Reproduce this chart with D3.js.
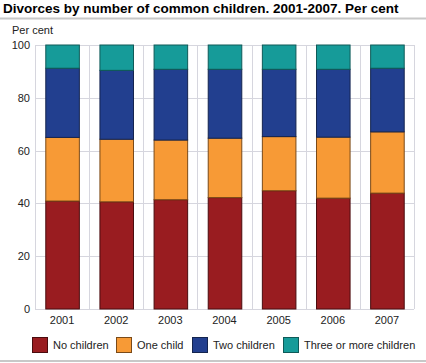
<!DOCTYPE html>
<html>
<head>
<meta charset="utf-8">
<script src="https://cdn.jsdelivr.net/npm/d3@7"></script>
<style>
  body { margin: 0; background: #fff; }
  svg { display: block; font-family: "Liberation Sans", Arial, sans-serif; }
</style>
</head>
<body>
<div id="chart"></div>
<script>
// data
const years = ["2001", "2002", "2003", "2004", "2005", "2006", "2007"];
const seriesNames = ["No children", "One child", "Two children", "Three or more children"];
const noChildren = [40.9, 40.6, 41.4, 42.2, 44.8, 42.0, 43.9];
const oneChild = [24.1, 23.7, 22.6, 22.5, 20.5, 23.1, 23.2];
const twoChildren = [26.2, 26.1, 26.8, 26.1, 25.5, 25.7, 24.1];
const threeOrMore = [8.8, 9.6, 9.2, 9.2, 9.2, 9.2, 8.8];
const yTicks = [0, 20, 40, 60, 80, 100];

const fills = ["#991c20", "#f79a36", "#223f8f", "#169b99"];
const strokes = ["#4a0c0e", "#7a4a18", "#14244f", "#0e5a58"];

const width = 426, height = 363;
const margin = {top: 45, right: 12, bottom: 54, left: 35};

const svg = d3.select("#chart").append("svg")
    .attr("width", width)
    .attr("height", height);

// title + rules
svg.append("text")
    .attr("x", 3).attr("y", 13)
    .attr("font-size", 13.5).attr("font-weight", "bold")
    .attr("fill", "#000")
    .text("Divorces by number of common children. 2001-2007. Per cent");
svg.append("line")
    .attr("x1", 0).attr("x2", width).attr("y1", 18.5).attr("y2", 18.5)
    .attr("stroke", "#c8c8c8").attr("stroke-width", 2);
svg.append("line")
    .attr("x1", 0).attr("x2", width).attr("y1", 361).attr("y2", 361)
    .attr("stroke", "#c8c8c8").attr("stroke-width", 2);

svg.append("text")
    .attr("x", 12).attr("y", 34)
    .attr("font-size", 11).attr("fill", "#222")
    .text("Per cent");

const x = d3.scaleBand()
    .domain(years)
    .range([margin.left, width - margin.right])
    .paddingInner(0.38).paddingOuter(0.19);

const y = d3.scaleLinear()
    .domain([0, 100])
    .range([height - margin.bottom, margin.top]);

const step = x.step();
const x0 = margin.left, x1 = width - margin.right;

// grid
const grid = svg.append("g").attr("stroke", "#d6d6de").attr("stroke-width", 1);
yTicks.forEach(t => {
    grid.append("line")
        .attr("x1", x0).attr("x2", x1)
        .attr("y1", Math.round(y(t)) + 0.5).attr("y2", Math.round(y(t)) + 0.5);
});
d3.range(years.length + 1).forEach(i => {
    const gx = Math.round(x0 + i * step) + 0.5;
    grid.append("line")
        .attr("x1", gx).attr("x2", gx)
        .attr("y1", y(100)).attr("y2", y(0));
});

// y tick labels
svg.append("g")
    .selectAll("text")
    .data(yTicks)
    .join("text")
    .attr("x", 30)
    .attr("y", d => y(d) + 4)
    .attr("text-anchor", "end")
    .attr("font-size", 11)
    .attr("fill", "#222")
    .text(d => d);

// x labels
svg.append("g")
    .selectAll("text")
    .data(years)
    .join("text")
    .attr("x", d => x(d) + x.bandwidth() / 2)
    .attr("y", y(0) + 15)
    .attr("text-anchor", "middle")
    .attr("font-size", 11)
    .attr("fill", "#222")
    .text(d => d);

// stack
const table = years.map((yr, i) => ({
    year: yr,
    "No children": noChildren[i],
    "One child": oneChild[i],
    "Two children": twoChildren[i],
    "Three or more children": threeOrMore[i]
}));
const stacked = d3.stack().keys(seriesNames)(table);

svg.append("g")
    .selectAll("g")
    .data(stacked)
    .join("g")
    .attr("fill", (d, i) => fills[i])
    .attr("stroke", (d, i) => strokes[i])
    .attr("stroke-width", 1)
    .selectAll("rect")
    .data(d => d)
    .join("rect")
    .attr("x", d => x(d.data.year) + 0.5)
    .attr("y", d => y(d[1]))
    .attr("width", x.bandwidth())
    .attr("height", d => y(d[0]) - y(d[1]));

// legend
const legendX = [32, 116, 192, 283];
const legend = svg.append("g");
seriesNames.forEach((name, i) => {
    legend.append("rect")
        .attr("x", legendX[i] + 0.5).attr("y", 337.5)
        .attr("width", 15).attr("height", 15)
        .attr("fill", fills[i]).attr("stroke", strokes[i]);
    legend.append("text")
        .attr("x", legendX[i] + 21).attr("y", 349)
        .attr("font-size", 11).attr("fill", "#222")
        .text(name);
});
</script>
</body>
</html>
